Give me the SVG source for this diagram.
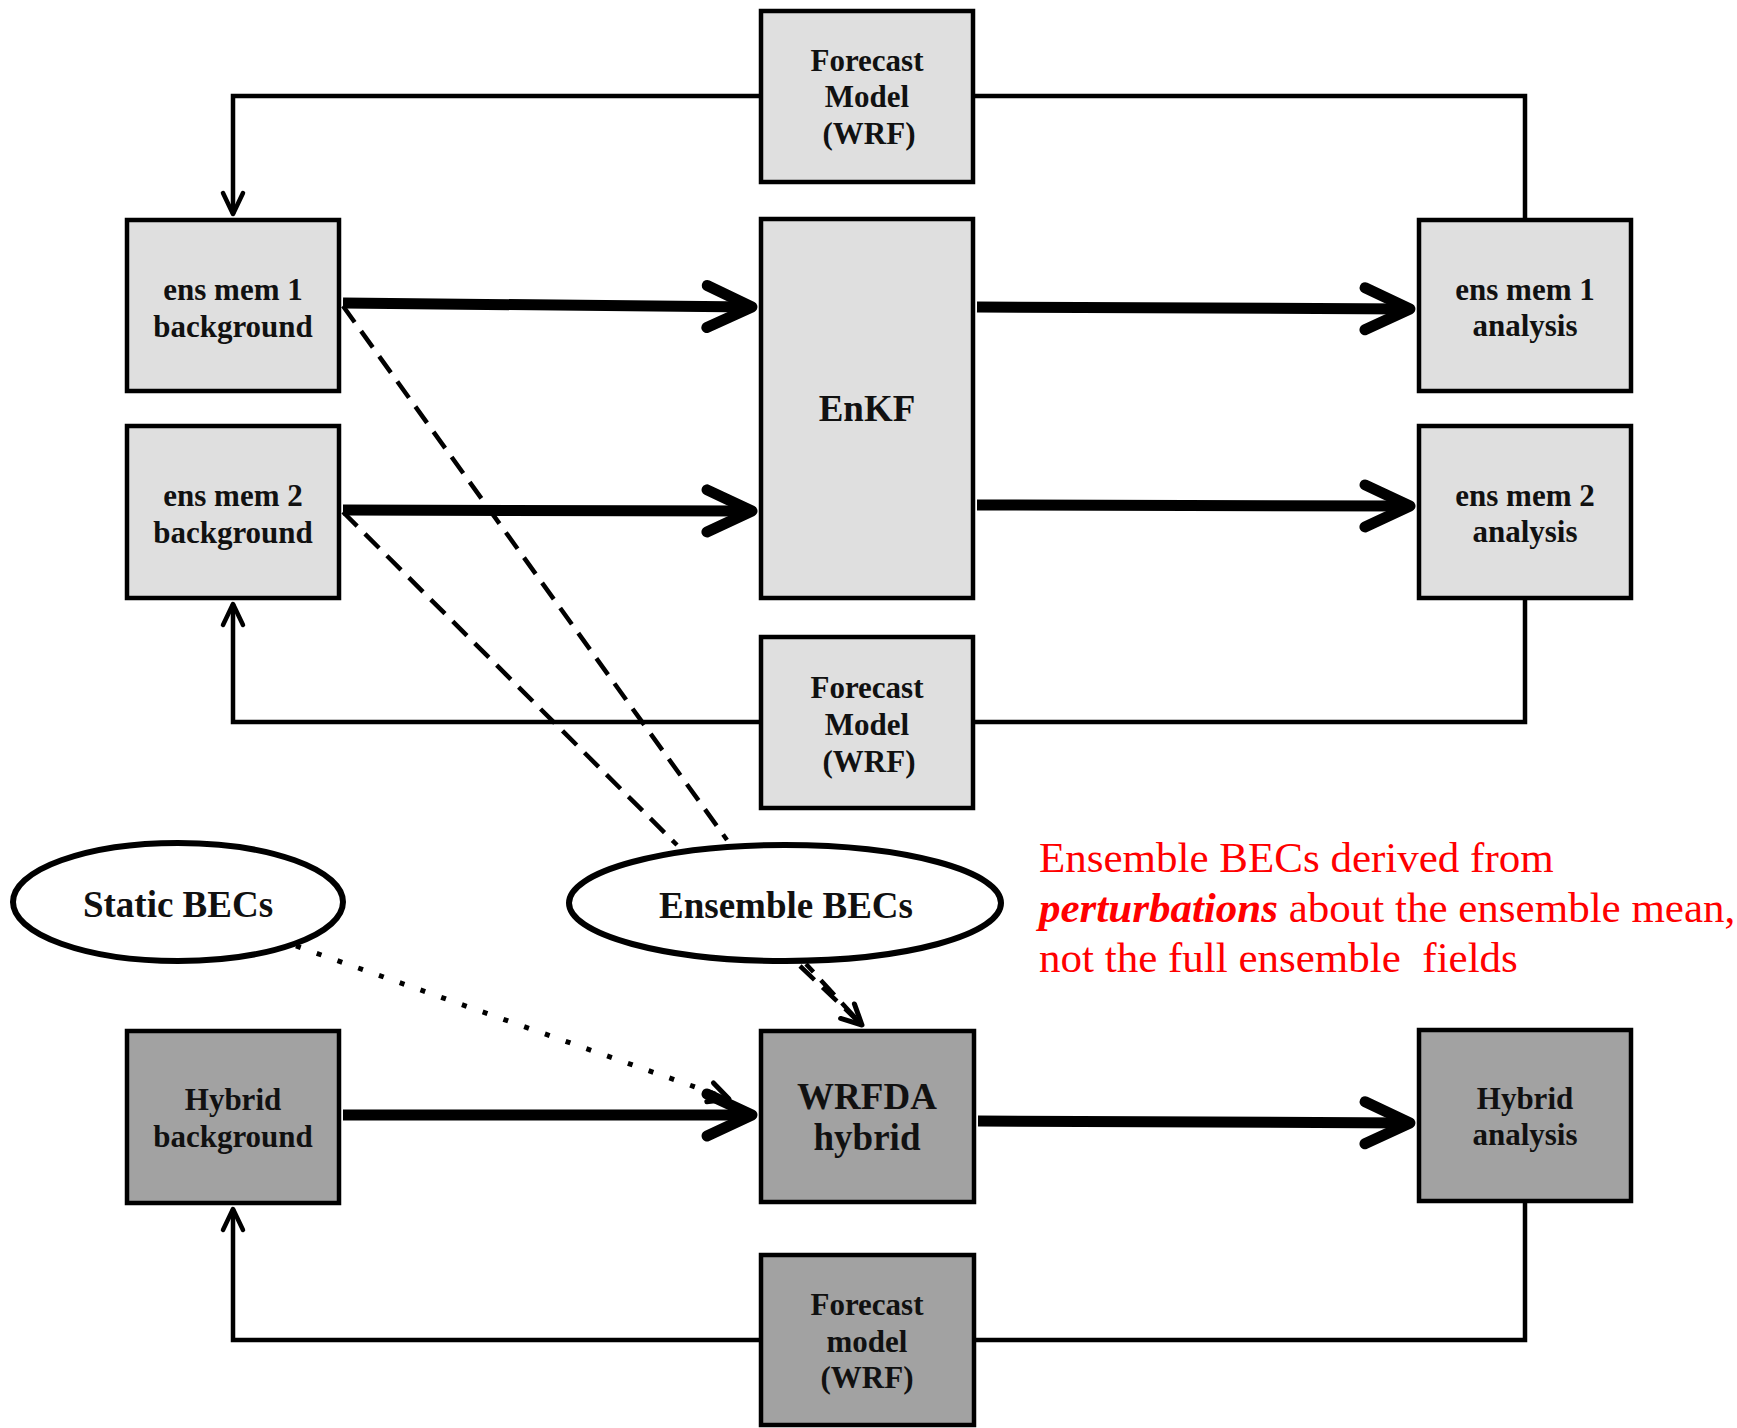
<svg xmlns="http://www.w3.org/2000/svg" width="1737" height="1428" viewBox="0 0 1737 1428">
<style>
.light{fill:#dfdfdf;stroke:#000;stroke-width:4.5}
.dark{fill:#a2a2a2;stroke:#000;stroke-width:4.5}
.ell{fill:#fff;stroke:#000;stroke-width:6}
.t{font-family:"Liberation Serif","Times New Roman",serif;font-weight:bold;font-size:31px;text-anchor:middle;fill:#111}
.tb{font-family:"Liberation Serif","Times New Roman",serif;font-weight:bold;font-size:37px;text-anchor:middle;fill:#111}
.thin{fill:none;stroke:#000;stroke-width:4.5}
.thick{fill:none;stroke:#000;stroke-width:11;stroke-linecap:butt}
.dash{fill:none;stroke:#000;stroke-width:4.5;stroke-dasharray:20 11}
.dot{fill:none;stroke:#000;stroke-width:5;stroke-dasharray:5 17}
.red{font-family:"Liberation Serif","Times New Roman",serif;font-size:43px;fill:#ff0000;white-space:pre}
</style>
<defs>
<marker id="thinArrow" markerUnits="userSpaceOnUse" viewBox="-30 -20 40 40" refX="0" refY="0" markerWidth="40" markerHeight="40" orient="auto">
<path d="M-21,-10 L0,0 L-21,10" fill="none" stroke="#000" stroke-width="4.5" stroke-linecap="round" stroke-linejoin="round"/>
</marker>
<marker id="thickArrow" markerUnits="userSpaceOnUse" viewBox="-60 -30 70 60" refX="0" refY="0" markerWidth="70" markerHeight="60" orient="auto">
<path d="M-45,-21 L0,0 L-45,21" fill="none" stroke="#000" stroke-width="11" stroke-linecap="round" stroke-linejoin="round"/>
</marker>
<marker id="dashArrow" markerUnits="userSpaceOnUse" viewBox="-30 -20 40 40" refX="0" refY="0" markerWidth="40" markerHeight="40" orient="auto">
<path d="M-20,-10 L0,0 L-20,10" fill="none" stroke="#000" stroke-width="5" stroke-linecap="round" stroke-linejoin="round"/>
</marker>
</defs>

<g id="connectors">
<path class="thin" d="M759,96 H233 V214" marker-end="url(#thinArrow)"/>
<path class="thin" d="M975,96 H1525 V218"/>
<path class="thin" d="M759,722 H233 V604" marker-end="url(#thinArrow)"/>
<path class="thin" d="M975,722 H1525 V600"/>
<path class="thin" d="M759,1340 H233 V1209" marker-end="url(#thinArrow)"/>
<path class="thin" d="M976,1340 H1525 V1203"/>

<path class="thick" d="M343,303 L752,307" marker-end="url(#thickArrow)"/>
<path class="thick" d="M343,510 L752,511" marker-end="url(#thickArrow)"/>
<path class="thick" d="M977,307 L1410,309" marker-end="url(#thickArrow)"/>
<path class="thick" d="M977,505 L1410,506" marker-end="url(#thickArrow)"/>
<path class="thick" d="M343,1115 L752,1115" marker-end="url(#thickArrow)"/>
<path class="thick" d="M978,1121 L1410,1123" marker-end="url(#thickArrow)"/>

<path class="dash" d="M343,306 L727,840"/>
<path class="dash" d="M343,512 L677,845"/>
<path class="dash" d="M800,966 L862,1025" marker-end="url(#dashArrow)"/>
<path class="dash" d="M806,964 L862,1025" style="stroke-dashoffset:9"/>
<path class="dot" d="M296,946 L729,1099" marker-end="url(#dashArrow)"/>
</g>

<g id="fm1"><rect class="light" x="761" y="11" width="212" height="171"/>
<text class="t" x="867" y="71">Forecast</text><text class="t" x="867" y="107">Model</text><text class="t" x="869" y="144">(WRF)</text></g>

<g id="em1b"><rect class="light" x="127" y="220" width="212" height="171"/>
<text class="t" x="233" y="300">ens mem 1</text><text class="t" x="233" y="337">background</text></g>

<g id="em2b"><rect class="light" x="127" y="426" width="212" height="172"/>
<text class="t" x="233" y="506">ens mem 2</text><text class="t" x="233" y="543">background</text></g>

<g id="enkf"><rect class="light" x="761" y="219" width="212" height="379"/>
<text class="tb" x="867" y="421">EnKF</text></g>

<g id="em1a"><rect class="light" x="1419" y="220" width="212" height="171"/>
<text class="t" x="1525" y="300">ens mem 1</text><text class="t" x="1525" y="336">analysis</text></g>

<g id="em2a"><rect class="light" x="1419" y="426" width="212" height="172"/>
<text class="t" x="1525" y="506">ens mem 2</text><text class="t" x="1525" y="542">analysis</text></g>

<g id="fm2"><rect class="light" x="761" y="637" width="212" height="171"/>
<text class="t" x="867" y="698">Forecast</text><text class="t" x="867" y="735">Model</text><text class="t" x="869" y="772">(WRF)</text></g>

<g id="static"><ellipse class="ell" cx="178" cy="902" rx="165" ry="59"/>
<text class="tb" x="178" y="917">Static BECs</text></g>

<g id="ensbec"><ellipse class="ell" cx="785" cy="903" rx="216" ry="58"/>
<text class="tb" x="786" y="918">Ensemble BECs</text></g>

<g id="note">
<text class="red" x="1039" y="872">Ensemble BECs derived from</text>
<text class="red" x="1039" y="922"><tspan font-weight="bold" font-style="italic">perturbations</tspan> about the ensemble mean,</text>
<text class="red" x="1039" y="972">not the full ensemble  fields</text>
</g>

<g id="hb"><rect class="dark" x="127" y="1031" width="212" height="172"/>
<text class="t" x="233" y="1110">Hybrid</text><text class="t" x="233" y="1147">background</text></g>

<g id="wrfda"><rect class="dark" x="761" y="1031" width="213" height="171"/>
<text class="tb" x="867" y="1109">WRFDA</text><text class="tb" x="867" y="1150">hybrid</text></g>

<g id="ha"><rect class="dark" x="1419" y="1030" width="212" height="171"/>
<text class="t" x="1525" y="1109">Hybrid</text><text class="t" x="1525" y="1145">analysis</text></g>

<g id="fm3"><rect class="dark" x="761" y="1255" width="213" height="170"/>
<text class="t" x="867" y="1315">Forecast</text><text class="t" x="867" y="1352">model</text><text class="t" x="867" y="1388">(WRF)</text></g>
</svg>
